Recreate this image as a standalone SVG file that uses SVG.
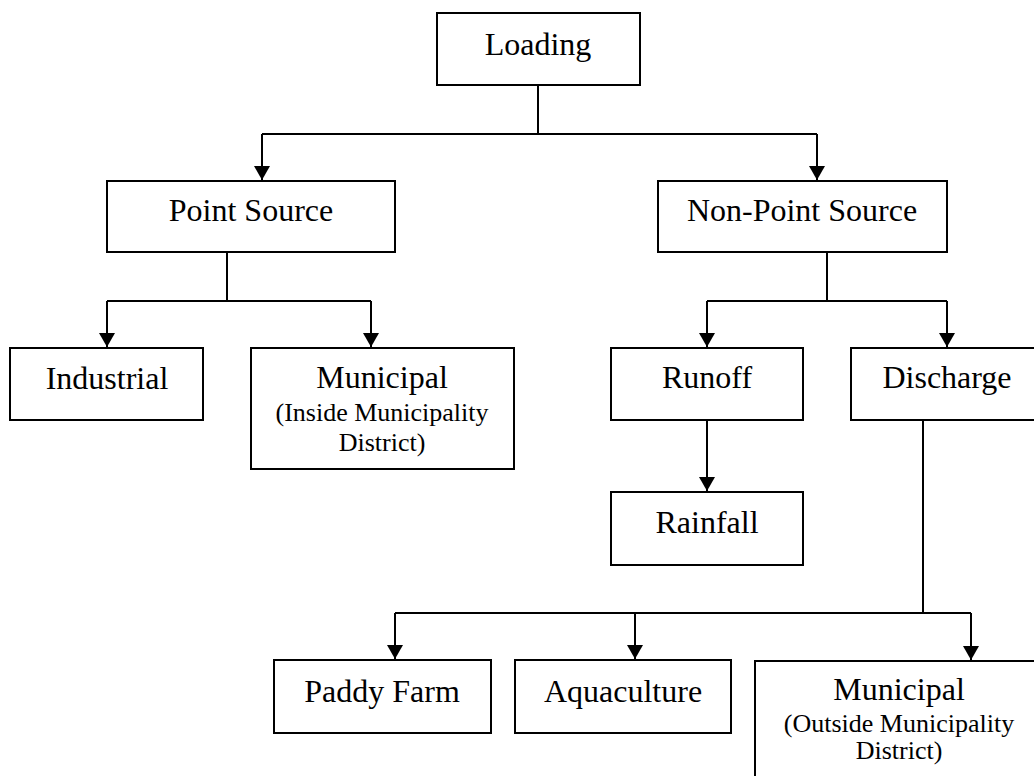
<svg xmlns="http://www.w3.org/2000/svg" width="1034" height="776" viewBox="0 0 1034 776">
<style>
.box{fill:#fff;stroke:#000;stroke-width:2}
.t{font-family:"Liberation Serif","Times New Roman",serif;font-size:32px;fill:#000;text-anchor:middle}
.s{font-size:26px}
.c{fill:none;stroke:#000;stroke-width:2}
</style>
<defs>
<marker id="ah" markerUnits="userSpaceOnUse" markerWidth="14" markerHeight="16" refX="14" refY="8" orient="auto" viewBox="0 0 14 16">
<path d="M0,0 L14,8 L0,16 z" fill="#000"/>
</marker>
</defs>
<rect width="1034" height="776" fill="#fff"/>
<g id="connectors">
<path class="c" d="M538,85 V134 M262,134 H817"/>
<path class="c" d="M262,134 V180" marker-end="url(#ah)"/>
<path class="c" d="M817,134 V180" marker-end="url(#ah)"/>
<path class="c" d="M227,252 V301 M107,301 H371"/>
<path class="c" d="M107,301 V347" marker-end="url(#ah)"/>
<path class="c" d="M371,301 V347" marker-end="url(#ah)"/>
<path class="c" d="M827,252 V301 M707,301 H947"/>
<path class="c" d="M707,301 V347" marker-end="url(#ah)"/>
<path class="c" d="M947,301 V347" marker-end="url(#ah)"/>
<path class="c" d="M707,420 V491" marker-end="url(#ah)"/>
<path class="c" d="M923,420 V613 M395,613 H971"/>
<path class="c" d="M395,613 V659" marker-end="url(#ah)"/>
<path class="c" d="M635,613 V659" marker-end="url(#ah)"/>
<path class="c" d="M971,613 V660" marker-end="url(#ah)"/>
</g>
<g id="loading">
<rect class="box" x="437" y="13" width="203" height="72"/>
<text class="t" x="538" y="55">Loading</text>
</g>
<g id="point-source">
<rect class="box" x="107" y="181" width="288" height="71"/>
<text class="t" x="251" y="221">Point Source</text>
</g>
<g id="non-point-source">
<rect class="box" x="658" y="181" width="289" height="71"/>
<text class="t" x="802" y="221">Non-Point Source</text>
</g>
<g id="industrial">
<rect class="box" x="10" y="348" width="193" height="72"/>
<text class="t" x="107" y="389">Industrial</text>
</g>
<g id="municipal-inside">
<rect class="box" x="251" y="348" width="263" height="121"/>
<text class="t" x="382" y="388">Municipal</text>
<text class="t s" x="382" y="421">(Inside Municipality</text>
<text class="t s" x="382" y="451">District)</text>
</g>
<g id="runoff">
<rect class="box" x="611" y="348" width="192" height="72"/>
<text class="t" x="707" y="388">Runoff</text>
</g>
<g id="discharge">
<rect class="box" x="851" y="348" width="192" height="72"/>
<text class="t" x="947" y="388">Discharge</text>
</g>
<g id="rainfall">
<rect class="box" x="611" y="492" width="192" height="73"/>
<text class="t" x="707" y="533">Rainfall</text>
</g>
<g id="paddy-farm">
<rect class="box" x="274" y="660" width="217" height="73"/>
<text class="t" x="382" y="702">Paddy Farm</text>
</g>
<g id="aquaculture">
<rect class="box" x="515" y="660" width="216" height="73"/>
<text class="t" x="623" y="702">Aquaculture</text>
</g>
<g id="municipal-outside">
<rect class="box" x="755" y="661" width="288" height="125"/>
<text class="t" x="899" y="700">Municipal</text>
<text class="t s" x="899" y="732">(Outside Municipality</text>
<text class="t s" x="899" y="759">District)</text>
</g>
</svg>
